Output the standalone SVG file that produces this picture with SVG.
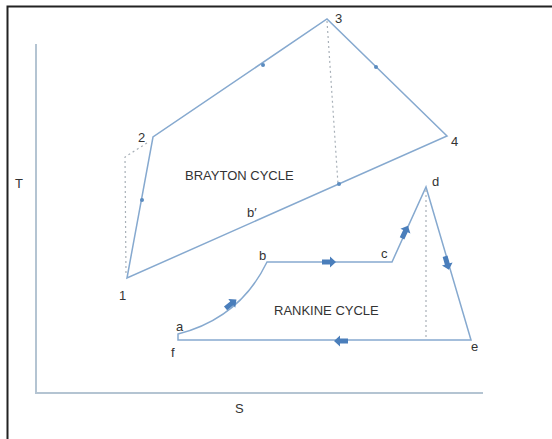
<svg xmlns="http://www.w3.org/2000/svg" width="552" height="439" viewBox="0 0 552 439">
<style>
.ln{fill:none;stroke:#86a9cf;stroke-width:1.5}
.ax{fill:none;stroke:#b4c4d2;stroke-width:2}
.dt{fill:none;stroke:#a8b0b8;stroke-width:1.2;stroke-dasharray:2 3}
.t{font-family:"Liberation Sans",Arial,sans-serif;font-size:13px;fill:#333}
.dot{fill:#5b8cc0}
.arr{fill:#4a7ebb}
</style>
<defs>
<path id="ba" d="M-7,-2.5 H1 V-5.5 L7,0 L1,5.5 V2.5 H-7 Z"/>
</defs>
<rect width="552" height="439" fill="#fff"/>
<path d="M7.5,439 V6.5 H552" fill="none" stroke="#222" stroke-width="2"/>
<g id="axes">
<path class="ax" d="M36,44 V393 H483"/>
<text class="t" x="15" y="188">T</text>
<text class="t" x="235" y="413">S</text>
</g>
<g id="connectors">
<path class="ln" d="M127,278 L153,137 L327,19 L447,136 Z"/>
<path class="dt" d="M147,143 L125,157 L126,276"/>
<path class="dt" d="M327,21 L338,184"/>
<path class="ln" d="M178,334 Q240,318 267,262 H392 L426,187 L471,340 H178 Z"/>
<path class="dt" d="M426,190 V340"/>
<circle class="dot" cx="263" cy="65" r="2"/>
<circle class="dot" cx="376" cy="67" r="2"/>
<circle class="dot" cx="142" cy="200" r="2"/>
<circle class="dot" cx="339" cy="184" r="2"/>
<use href="#ba" class="arr" transform="translate(329,262)"/>
<use href="#ba" class="arr" transform="translate(341,341) rotate(180)"/>
<use href="#ba" class="arr" transform="translate(405,232) rotate(-65)"/>
<use href="#ba" class="arr" transform="translate(447,263) rotate(74)"/>
<use href="#ba" class="arr" transform="translate(231,304) rotate(-39)"/>
</g>
<g id="brayton">
<text class="t" x="185" y="180">BRAYTON CYCLE</text>
<text class="t" x="119" y="300">1</text>
<text class="t" x="138" y="142">2</text>
<text class="t" x="335" y="23">3</text>
<text class="t" x="451" y="146">4</text>
<text class="t" x="247" y="217">b′</text>
</g>
<g id="rankine">
<text class="t" x="274" y="315">RANKINE CYCLE</text>
<text class="t" x="176" y="331">a</text>
<text class="t" x="171" y="357">f</text>
<text class="t" x="259" y="260">b</text>
<text class="t" x="381" y="258">c</text>
<text class="t" x="432" y="186">d</text>
<text class="t" x="471" y="351">e</text>
</g>
</svg>
